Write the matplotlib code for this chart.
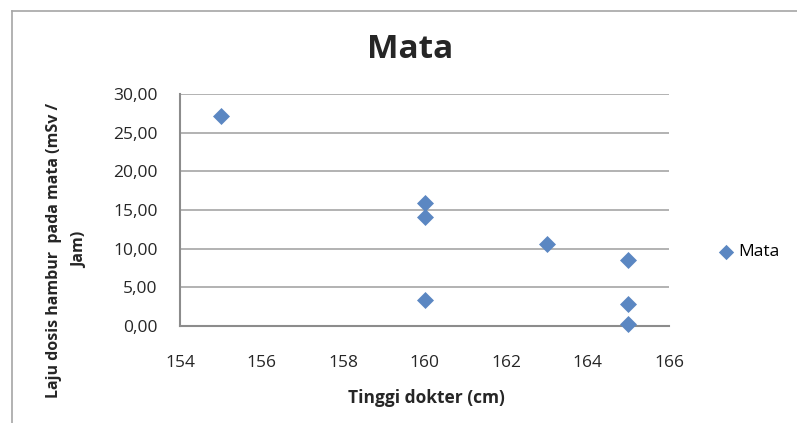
import numpy as np
import matplotlib.pyplot as plt
from matplotlib.lines import Line2D
from matplotlib.ticker import FuncFormatter

plt.rcParams['font.family'] = ['Open Sans', 'DejaVu Sans']

# tinggi dokter (cm) dan laju dosis hambur pada mata (mSv/jam)
tinggi = [155, 160, 160, 160, 163, 165, 165, 165]
laju_dosis = [27.2, 15.9, 14.1, 3.4, 10.6, 8.5, 2.9, 0.2]

W, H = 797, 423
fig = plt.figure(figsize=(W / 100, H / 100), dpi=100)
ax = fig.add_axes([180 / W, 1 - 326 / H, (669 - 180) / W, (326 - 94) / H])

marker_color = '#5b87c2'
ax.scatter(tinggi, laju_dosis, marker='D', s=75, color=marker_color,
           linewidths=0, zorder=3, label='Mata', clip_on=False)

ax.set_xlim(154, 166)
ax.set_ylim(0, 30)
ax.set_xticks(np.arange(154, 167, 2))
ax.set_yticks(np.arange(0, 31, 5))
ax.yaxis.set_major_formatter(FuncFormatter(lambda v, p: f'{v:.2f}'.replace('.', ',')))
ax.tick_params(length=0, labelsize=12.5, colors='#262626')
ax.tick_params(axis='y', pad=16)
ax.tick_params(axis='x', pad=21)

ax.grid(axis='y', color='#a6a6a6', linewidth=1.2)
ax.set_axisbelow(True)
for side in ['top', 'right']:
    ax.spines[side].set_visible(False)
for side in ['left', 'bottom']:
    ax.spines[side].set_color('#8c8c8c')
    ax.spines[side].set_linewidth(1.5)

fig.text(410 / W, 1 - 50 / H, 'Mata', ha='center', va='center',
         fontsize=24, fontweight='bold', color='#262626')
fig.text(426 / W, 1 - 398 / H, 'Tinggi dokter (cm)', ha='center', va='center',
         fontsize=12.5, fontweight='bold', color='#262626')
fig.text(67 / W, 1 - 250 / H, 'Laju dosis hambur  pada mata (mSv /\nJam)',
         ha='center', va='center', rotation=90, fontsize=11.5,
         fontweight='bold', color='#262626', linespacing=1.9)

ax.legend(loc='center left', bbox_to_anchor=(693 / W, 1 - 252 / H),
          bbox_transform=fig.transFigure, frameon=False, fontsize=12.5,
          handletextpad=-0.3, markerscale=0.9)

# chart frame
fig.add_artist(Line2D([12 / W, 12 / W], [0, 1 - 11 / H], transform=fig.transFigure,
                      color='#a6a6a6', linewidth=1.2))
fig.add_artist(Line2D([12 / W, 1], [1 - 11 / H, 1 - 11 / H], transform=fig.transFigure,
                      color='#a6a6a6', linewidth=1.2))

fig.savefig('out.png', dpi=100)
